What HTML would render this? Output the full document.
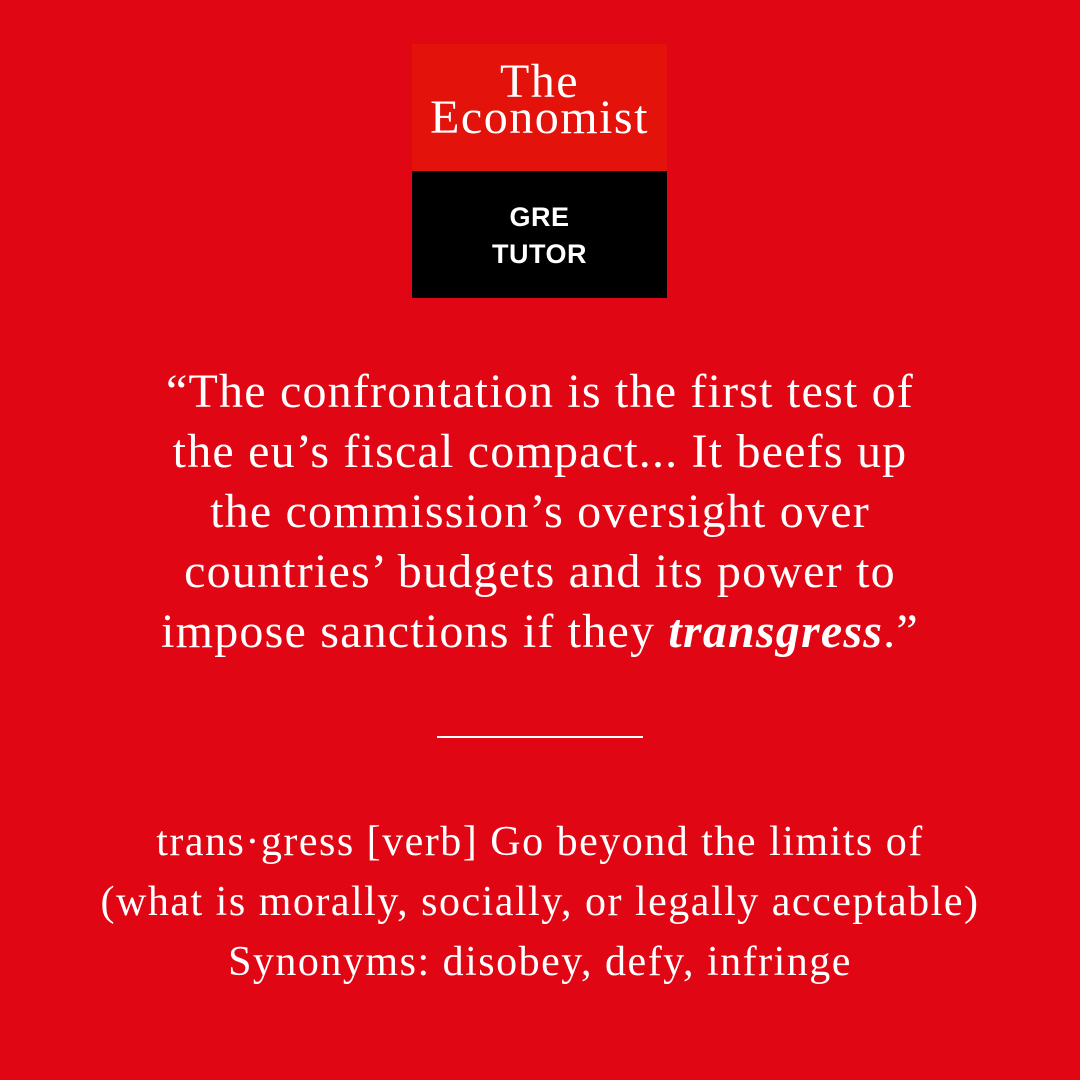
<!DOCTYPE html>
<html>
<head>
<meta charset="utf-8">
<style>
  html,body{margin:0;padding:0;}
  body{width:1080px;height:1080px;background:#e10613;position:relative;overflow:hidden;font-family:"Liberation Serif",serif;color:#fff;}
  .logo-top{position:absolute;left:412px;top:44px;width:255px;height:127px;background:#e3120b;}
  .logo-bot{position:absolute;left:412px;top:171px;width:255px;height:127px;background:#000;}
  .lt{position:absolute;left:0;width:255px;text-align:center;font-family:"Liberation Serif",serif;font-size:48px;line-height:48px;letter-spacing:1.5px;}
  .lg{position:absolute;left:0;width:255px;text-align:center;font-family:"Liberation Sans",sans-serif;font-weight:bold;font-size:27px;line-height:30px;letter-spacing:0.5px;}
  .quote{position:absolute;left:0;top:362px;width:1080px;text-align:center;font-size:48px;line-height:60px;letter-spacing:1.2px;}
  .rule{position:absolute;left:437px;top:736px;width:206px;height:2px;background:#fff;}
  .def{position:absolute;left:0;top:812px;width:1080px;text-align:center;font-size:42px;line-height:60px;letter-spacing:1.5px;}
</style>
</head>
<body>
  <div class="logo-top">
    <div class="lt" style="top:14px;">The</div>
    <div class="lt" style="top:50px;">Economist</div>
  </div>
  <div class="logo-bot">
    <div class="lg" style="top:31px;">GRE</div>
    <div class="lg" style="top:68px;">TUTOR</div>
  </div>
  <div class="quote">
    “The confrontation is the first test of<br>
    the eu’s fiscal compact... It beefs up<br>
    the commission’s oversight over<br>
    countries’ budgets and its power to<br>
    impose sanctions if they <b><i>transgress</i></b>.”
  </div>
  <div class="rule"></div>
  <div class="def">
    trans·gress [verb] Go beyond the limits of<br>
    (what is morally, socially, or legally acceptable)<br>
    Synonyms: disobey, defy, infringe
  </div>
</body>
</html>
